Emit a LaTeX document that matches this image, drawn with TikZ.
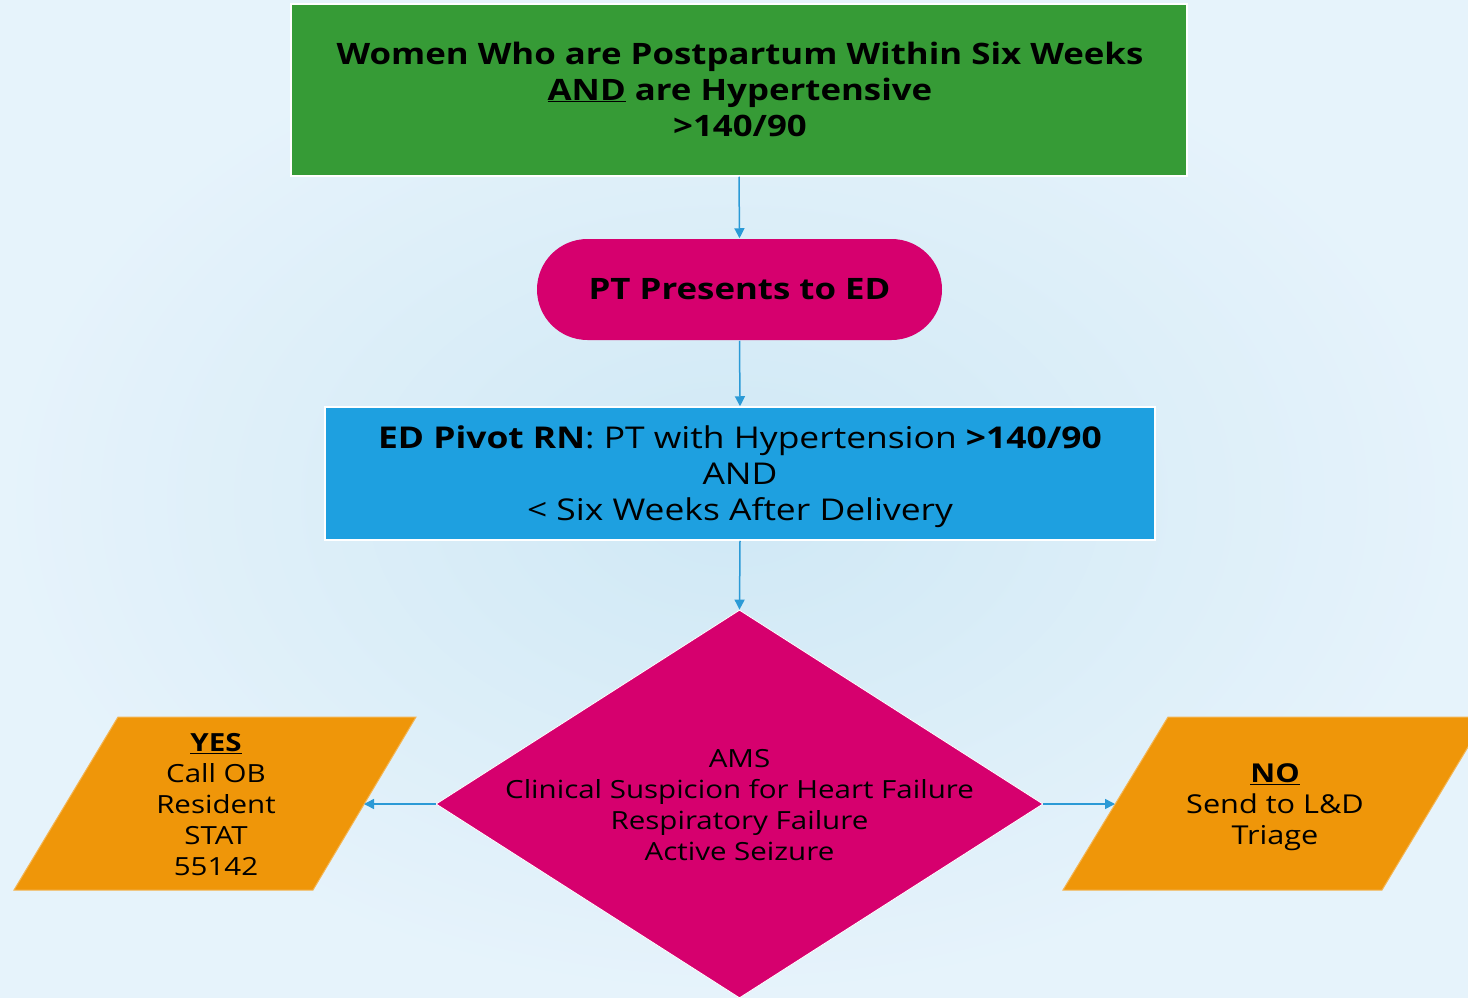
\documentclass[tikz,border=0pt]{standalone}
\usepackage{fontspec}
\setmainfont[FakeStretch=1.18]{Open Sans}
\usetikzlibrary{shapes.geometric,arrows.meta}
\definecolor{bgin}{HTML}{CFE8F5}
\definecolor{bgout}{HTML}{E6F3FB}
\definecolor{gbox}{HTML}{369B36}
\definecolor{pbox}{HTML}{D6006E}
\definecolor{bbox}{HTML}{1EA0E0}
\definecolor{obox}{HTML}{EF9609}
\definecolor{arr}{HTML}{2B9AD6}
\begin{document}
\begin{tikzpicture}[x=1pt,y=-1pt,
  conn/.style={draw=arr,line width=1.5pt,-{Triangle[length=10pt,width=10pt]}},
  box/.style={draw=white,line width=1.5pt,inner sep=0pt,align=center,text=black},
  bigtxt/.style={font=\fontsize{30}{36}\selectfont,align=center,text=black},
  smalltxt/.style={font=\fontsize{25}{31}\selectfont,align=center,text=black},
  para/.style={fill=obox,draw=obox!70!white,line width=1pt}]
\useasboundingbox (0,0) rectangle (1468,998);
\shade[inner color=bgin,outer color=bgout] (0,0) rectangle (1468,998);

\node[box,fill=gbox,minimum width=896pt,minimum height=172pt] (top) at (739,90) {};
\node[bigtxt,font=\fontsize{29.5}{36}\selectfont\bfseries] (toptxt) at (740,89)
  {Women Who are Postpartum Within Six Weeks\\\underline{AND} are Hypertensive\\>140/90};

\node[box,draw=none,fill=pbox,minimum width=405pt,minimum height=101pt,rounded corners=50.5pt,font=\fontsize{29.5}{36}\selectfont\bfseries] (pt) at (739.5,289.5)
  {PT Presents to ED};

\node[box,fill=bbox,minimum width=830pt,minimum height=133pt] (rn) at (740,473.5) {};
\node[bigtxt] (rntxt) at (740,477)
  {\textbf{ED Pivot RN}: PT with Hypertension \textbf{>140/90}\\AND\\< Six Weeks After Delivery};

\node[diamond,fill=pbox,draw=white,line width=0.8pt,inner sep=0pt,minimum width=607pt,minimum height=388pt] (dia) at (739.5,804) {};
\node[smalltxt] (diatxt) at (739.5,805)
  {AMS\\Clinical Suspicion for Heart Failure\\Respiratory Failure\\Active Seizure};

\path[para] (14,890) -- (313,890) -- (416,717) -- (118,717) -- cycle;
\node[smalltxt] (yes) at (216,805) {\textbf{\underline{YES}}\\Call OB\\Resident\\STAT\\55142};
\coordinate (yesedge) at (364,804);

\path[para] (1063,890) -- (1382,890) -- (1486,717) -- (1168,717) -- cycle;
\node[smalltxt,font=\fontsize{26}{31}\selectfont] (no) at (1275,807) {\textbf{\underline{NO}}\\Send to L\&D\\Triage};
\coordinate (noedge) at (1115,804);

\draw[conn] (top.south) -- (pt.north);
\draw[conn] (pt.south) -- (rn.north);
\draw[conn] (rn.south) -- (dia.north);
\draw[conn] (dia.west) -- (yesedge);
\draw[conn] (dia.east) -- (noedge);
\end{tikzpicture}
\end{document}
